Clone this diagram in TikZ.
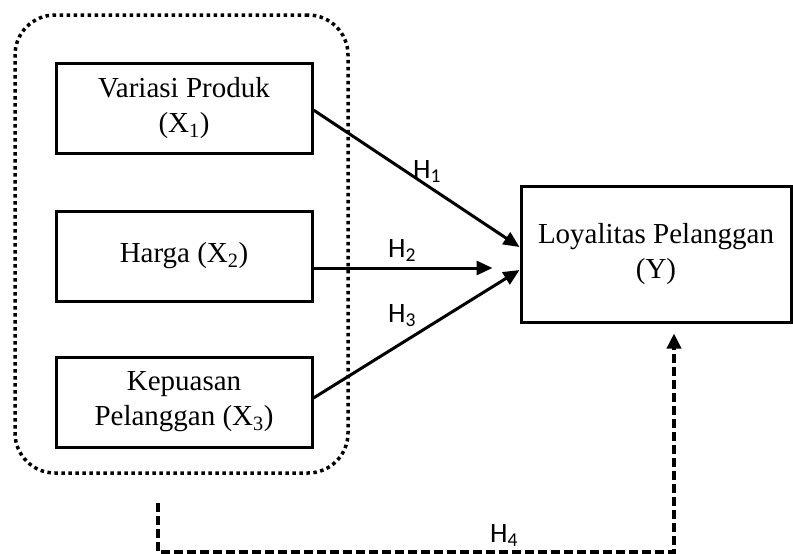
\documentclass[tikz,border=0pt]{standalone}
\usepackage{fontspec}
\setmainfont{Liberation Serif}
\newfontfamily\hfont{Carlito}
\usetikzlibrary{arrows.meta}
\begin{document}
\begin{tikzpicture}[x=1pt,y=-1pt,
  box/.style={draw, line width=3pt, rectangle, align=center, inner sep=0pt,
    font=\fontsize{29}{35}\selectfont},
  conn/.style={line width=3pt, -{Triangle[length=16pt,width=14pt]}},
  hlab/.style={font=\hfont\fontsize{28}{32}\selectfont, inner sep=0pt, anchor=base west},
  groupbox/.style={draw, line width=3.5pt, dash pattern=on 3.5pt off 3.5pt, rounded corners=40pt, inner sep=0pt},
  dashconn/.style={line width=3.5pt, dash pattern=on 9pt off 4pt, -{Triangle[length=15pt,width=14pt]}}]
\useasboundingbox (0,0) rectangle (793,554);
\node[groupbox, minimum width=333pt, minimum height=458pt] (G) at (181.5,244) {};
\node[box, minimum width=256pt, minimum height=90pt] (X1) at (184,108) {Variasi Produk\\(X\textsubscript{1})};
\node[box, minimum width=256pt, minimum height=90pt] (X2) at (184,256) {Harga (X\textsubscript{2})};
\node[box, minimum width=256pt, minimum height=90pt] (X3) at (184,402) {Kepuasan\\Pelanggan (X\textsubscript{3})};
\node[box, minimum width=270pt, minimum height=136pt] (Y) at (656,254) {Loyalitas Pelanggan\\(Y)};
\draw[conn] ([yshift=-2pt]X1.east) -- ([yshift=7pt]Y.west);
\draw[conn] ([yshift=-12pt]X2.east) -- ([xshift=-27pt,yshift=-14pt]Y.west);
\draw[conn] ([yshift=4pt]X3.east) -- ([yshift=-16pt]Y.west);
\node[hlab] (h1) at (413,178) {H\textsubscript{1}};
\node[hlab] (h2) at (388,257) {H\textsubscript{2}};
\node[hlab] (h3) at (388,322) {H\textsubscript{3}};
\node[hlab] (h4) at (490,542) {H\textsubscript{4}};
\coordinate (h4s) at (158,503);
\draw[dashconn] (h4s) |- (674,552) -- ([xshift=18pt,yshift=-10pt]Y.south);
\end{tikzpicture}
\end{document}
